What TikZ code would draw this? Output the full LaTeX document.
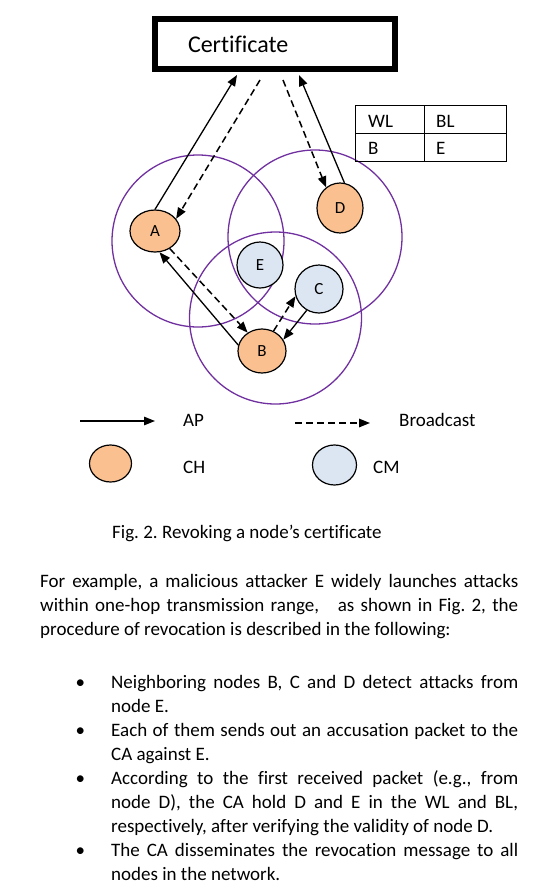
\documentclass[tikz,border=0pt]{standalone}
\usepackage{fontspec}
\setmainfont{Carlito}[Ligatures=NoCommon]
\usetikzlibrary{arrows.meta, shapes.geometric}

\definecolor{rangepurple}{RGB}{112,48,160}
\definecolor{chorange}{RGB}{250,192,143}
\definecolor{cmblue}{RGB}{220,230,242}

\newcommand{\rangecircle}[2]% center, radius
    {(#1) circle (#2)
}

\frenchspacing

\begin{document}
\begin{tikzpicture}[
    x=1pt, y=-1pt,
    chnode/.style={ellipse, draw=black, line width=1.2pt, fill=chorange, inner sep=0pt, font=\fontsize{17}{18}\selectfont},
    cmnode/.style={circle, draw=black, line width=1.2pt, fill=cmblue, inner sep=0pt, font=\fontsize{17}{18}\selectfont},
    ap/.style={-{Triangle[length=11pt, width=8.5pt]}, line width=1.3pt},
    bc/.style={ap, line width=1.5pt, dash pattern=on 7pt off 4pt},
    txt/.style={inner sep=0pt, font=\fontsize{19}{24}\selectfont}
]
    \useasboundingbox (0,0) rectangle (542,892);

    % Transmission ranges of the three cluster heads
    \draw[rangepurple, line width=1.3pt] \rangecircle{198,241}{86};
    \draw[rangepurple, line width=1.3pt] \rangecircle{315,237}{87};
    \draw[rangepurple, line width=1.3pt] \rangecircle{275.5,318}{86};

    % Certificate authority
    \node[draw, line width=6pt, minimum height=50pt, text width=174pt, inner xsep=33pt,
        font=\fontsize{24}{28}\selectfont] (cert) at (275,44) {Certificate};

    % WL / BL table
    \draw[line width=1pt] (355,105) rectangle (506,161);
    \draw[line width=1pt] (424,105) -- (424,161);
    \draw[line width=1pt] (355,133) -- (506,133);
    \node[txt, anchor=base west] (wl) at (368,127.3) {WL};
    \node[txt, anchor=base west] (bl) at (436,127.3) {BL};
    \node[txt, anchor=base west] (wlB) at (368,154) {B};
    \node[txt, anchor=base west] (blE) at (436,154) {E};

    % Nodes
    \node[chnode, minimum width=50pt, minimum height=42pt] (A) at (155,231) {A};
    \node[chnode, minimum width=46pt, minimum height=50pt] (D) at (340,208) {D};
    \node[chnode, minimum width=48pt, minimum height=44pt] (B) at (262,351) {B};
    \node[cmnode, minimum size=46pt] (E) at (260,265) {E};
    \node[cmnode, minimum size=48pt] (C) at (319,289) {C};

    % Accusation packets and broadcasts
    \draw[ap] (A.north) -- ([xshift=-38pt, yshift=-3pt]cert.south);
    \draw[bc] ([xshift=-15pt, yshift=-8pt]cert.south) -- (A.30);
    \draw[bc] ([xshift=8pt, yshift=-8pt]cert.south) -- (D.124);
    \draw[ap] (D.80) -- ([xshift=24pt, yshift=-3pt]cert.south);
    \draw[ap] (B.166) -- (A.-78);
    \draw[bc] (A.-50) -- (B.128);
    \draw[bc] (B.60) -- (C.197);
    \draw[ap] (C.240) -- (B.28);

    % Legend
    \coordinate (ap1) at (80,421);
    \coordinate (ap2) at (155,421);
    \coordinate (bc1) at (295,423);
    \coordinate (bc2) at (370,423);
    \draw[ap] (ap1) -- (ap2);
    \draw[bc] (bc1) -- (bc2);
    \node[txt, anchor=base west] (aplabel) at (183,426.7) {AP};
    \node[txt, anchor=base west] (bclabel) at (399,426.7) {Broadcast};
    \node[chnode, minimum width=42pt, minimum height=37pt] (chkey) at (110.5,463.5) {};
    \node[cmnode, ellipse, minimum width=44pt, minimum height=40pt] (cmkey) at (334.5,465) {};
    \node[txt, anchor=base west] (chlabel) at (183,473.3) {CH};
    \node[txt, anchor=base west] (cmlabel) at (373,473.3) {CM};

    % Caption
    \node[txt, anchor=base west] (caption) at (112,538) {Fig. 2. Revoking a node’s certificate};

    % Paragraph and procedure
    \node[txt, anchor=north west, text width=478pt, align=justify] (para) at (40,570.2)
        {\strut For example, a malicious attacker E widely launches attacks\linebreak
        within one-hop transmission range,\ \ \ as shown in Fig.~2, the\linebreak
        procedure of revocation is described in the following:};
    \node[txt, anchor=north west, text width=478pt, align=justify] (steps) at (40,664.2)
        {\begin{list}{\textbullet}{\setlength{\leftmargin}{71pt}\setlength{\labelsep}{26pt}%
            \setlength{\labelwidth}{45pt}\setlength{\itemsep}{0pt}\setlength{\parsep}{0pt}%
            \setlength{\topsep}{0pt}\setlength{\partopsep}{0pt}}
        \item \strut Neighboring nodes B, C and D detect attacks from\linebreak node E.
        \item Each of them sends out an accusation packet to the\linebreak CA against E.
        \item According to the first received packet (e.g., from\linebreak
            node D), the CA hold D and E in the WL and BL,\linebreak
            respectively, after verifying the validity of node D.
        \item The CA disseminates the revocation message to all\linebreak
            nodes in the network.
        \end{list}};
\end{tikzpicture}
\end{document}
